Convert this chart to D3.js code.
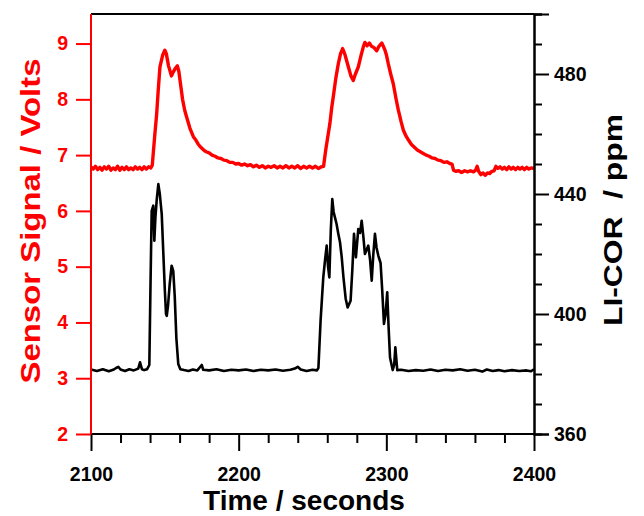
<!DOCTYPE html>
<html><head><meta charset="utf-8">
<script src="https://cdn.jsdelivr.net/npm/d3@7"></script>
<style>
html,body{margin:0;padding:0;background:#fff;}
svg{display:block;font-family:"Liberation Sans",Arial,sans-serif;font-weight:bold;}
</style></head>
<body>
<svg id="chart" width="644" height="516"></svg>
<script>
// ---- data ----
const timeDomain = [2100, 2400];
const voltDomain = [2, 9.53];
const ppmDomain = [360, 500];
const timeTicks = [2100, 2200, 2300, 2400];
const voltTicks = [2, 3, 4, 5, 6, 7, 8, 9];
const ppmTicks = [360, 400, 440, 480];

// Sensor signal (Volts) : [time s, volts]
const sensorSignal = [
 [2100,6.79],[2101.5,6.75],[2103,6.80],[2104.5,6.74],[2106,6.78],[2107.5,6.73],[2109,6.79],[2110.5,6.75],
 [2112,6.80],[2113.5,6.73],[2115,6.77],[2116.5,6.74],[2118,6.80],[2119.5,6.73],[2121,6.78],[2122.5,6.74],
 [2124,6.79],[2125.5,6.74],[2127,6.77],[2128.5,6.74],[2130,6.79],[2131.5,6.75],[2133,6.78],[2134.5,6.74],
 [2136,6.79],[2137.5,6.75],[2139,6.79],[2140.5,6.77],[2141.5,6.82],
 [2143,7.30],[2144.5,7.75],[2145.5,8.15],[2146.7,8.58],[2148.5,8.79],[2150,8.88],[2151,8.82],[2152.5,8.60],
 [2154.5,8.42],[2155.5,8.48],[2157,8.55],[2158.5,8.60],[2159.5,8.50],[2160.5,8.30],[2162,8.00],[2163.5,7.80],
 [2165,7.66],[2167,7.48],[2169.3,7.33],[2171,7.27],[2172.5,7.20],[2174,7.15],[2176,7.10],[2178,7.06],
 [2180,7.04],[2182,7.00],[2184,6.98],[2186,6.95],[2188,6.94],[2190,6.91],[2192,6.90],[2194,6.87],
 [2196,6.87],[2198,6.84],[2200,6.85],[2202,6.82],[2204,6.84],[2206,6.81],[2208,6.83],[2210,6.79],
 [2212,6.82],[2214,6.78],[2216,6.81],[2218,6.77],[2220,6.80],[2222,6.78],[2224,6.81],[2226,6.77],
 [2228,6.80],[2230,6.77],[2232,6.81],[2234,6.77],[2236,6.80],[2238,6.77],[2240,6.81],[2242,6.76],
 [2244,6.80],[2246,6.77],[2248,6.80],[2250,6.77],[2252,6.80],[2254,6.76],[2256,6.79],[2257.5,6.80],
 [2259,7.10],[2260.5,7.35],[2261.8,7.57],[2263,7.85],[2264.1,8.05],[2265.8,8.38],[2267.5,8.64],[2269,8.82],
 [2270.4,8.91],[2272,8.80],[2274.3,8.58],[2276,8.42],[2277.6,8.34],[2279,8.45],[2281,8.58],[2283,8.80],
 [2284.5,8.95],[2285.5,9.02],[2287,8.96],[2288.5,9.01],[2290,8.95],[2291.5,8.93],[2293.5,8.87],[2295,8.95],
 [2296.9,9.01],[2298,8.95],[2299.1,8.88],[2300.2,8.78],[2301.3,8.64],[2303,8.45],[2304.7,8.28],[2306.5,8.02],
 [2308.1,7.81],[2310,7.60],[2311.5,7.45],[2313,7.36],[2315,7.27],[2317,7.19],[2319,7.14],[2321,7.09],
 [2323,7.06],[2325,7.03],[2327,7.00],[2329,6.98],[2331,6.95],[2333,6.94],[2335,6.91],[2337,6.90],
 [2339,6.87],[2341,6.88],[2343,6.85],[2344.5,6.84],[2345.5,6.73],[2347,6.71],[2349,6.72],[2351,6.69],
 [2353,6.72],[2355,6.70],[2357,6.72],[2359,6.70],[2360.5,6.73],[2361.5,6.80],[2362.5,6.71],[2364,6.65],
 [2365.5,6.68],[2367,6.64],[2368.5,6.68],[2370,6.67],[2371.5,6.71],[2373,6.72],[2374.2,6.80],[2375.5,6.76],
 [2377,6.79],[2378.5,6.75],[2380,6.78],[2381.5,6.74],[2383,6.79],[2384.5,6.75],[2386,6.78],[2387.5,6.74],
 [2389,6.78],[2390.5,6.75],[2392,6.78],[2393.5,6.74],[2395,6.78],[2396.5,6.75],[2398,6.77],[2400,6.76]
];

// LI-COR CO2 (ppm) : [time s, ppm]
const licorPpm = [
 [2100,381.5],[2104,381.0],[2108,381.6],[2112,380.9],[2115,381.4],[2117,382.0],[2118.5,382.4],[2120,381.5],
 [2123,381.0],[2126,381.6],[2129,381.2],[2132,381.8],[2133.2,383.9],[2134.5,381.6],[2136,381.3],[2138,381.6],
 [2139.5,383.0],[2140.3,410.0],[2141.1,434.4],[2142.2,436.1],[2142.9,424.4],[2143.6,432.0],[2144.5,438.0],
 [2145.6,443.3],[2146.6,440.0],[2147.9,433.3],[2149,420.0],[2150,408.0],[2150.8,400.0],[2151.3,399.4],
 [2152.2,403.0],[2153.3,410.0],[2154.6,416.1],[2155.7,414.4],[2156.7,406.0],[2157.8,392.0],[2159.1,383.3],
 [2160.5,381.6],[2163,381.3],[2166,381.0],[2169,381.5],[2172,381.2],[2175,383.0],[2176,381.4],[2180,381.2],
 [2185,381.6],[2190,381.0],[2195,381.4],[2200,381.2],[2205,381.5],[2210,381.0],[2215,381.4],[2220,381.2],
 [2225,381.5],[2230,381.1],[2235,381.4],[2238,381.8],[2240,382.4],[2242,381.5],[2246,381.0],[2250,381.4],
 [2253,381.2],[2254,382.0],[2255.5,398.0],[2257.3,412.2],[2258.5,418.0],[2259.6,422.8],[2260.5,416.0],
 [2261.4,412.2],[2262.4,428.0],[2263.4,438.3],[2264.3,434.0],[2265.2,432.2],[2266.3,430.0],[2267.5,426.7],
 [2268.6,424.0],[2269.8,418.9],[2271,412.0],[2272.5,405.0],[2273.8,402.2],[2275.8,404.4],[2277,415.0],
 [2278.1,426.7],[2279.4,418.9],[2281,428.3],[2282.2,427.0],[2283.3,431.1],[2284.4,426.0],[2285.5,420.0],
 [2287.8,422.8],[2289,418.0],[2290.1,411.1],[2291.2,420.0],[2292.3,426.7],[2293.4,422.0],[2294.6,419.4],
 [2296.1,417.0],[2297.2,408.0],[2298.4,396.7],[2299.5,400.0],[2300.6,407.2],[2301.5,396.0],[2302.5,385.5],
 [2304.3,381.3],[2305.3,383.0],[2306.1,388.9],[2307.4,381.3],[2310,381.4],[2315,381.0],[2320,381.3],
 [2325,381.1],[2330,381.5],[2335,381.0],[2340,381.4],[2345,381.2],[2350,381.6],[2355,381.1],[2360,381.4],
 [2365,380.8],[2368,381.5],[2372,381.0],[2376,381.3],[2380,380.9],[2385,381.3],[2390,381.0],[2395,381.2],
 [2398,380.9],[2400,381.6]
];

// ---- layout ----
const svg = d3.select("#chart");
const M = {left: 91, right: 110, top: 14, bottom: 82};
const W = 644 - M.left - M.right, H = 516 - M.top - M.bottom;
const RED = "#ff0000";
const FONT = "Liberation Sans, Arial, sans-serif";

const x = d3.scaleLinear().domain(timeDomain).range([0, W]);
const yL = d3.scaleLinear().domain(voltDomain).range([H, 0]);
const yR = d3.scaleLinear().domain(ppmDomain).range([H, 0]);

const g = svg.append("g").attr("transform", `translate(${M.left},${M.top})`);

// lines
g.append("path").datum(licorPpm)
 .attr("fill","none").attr("stroke","#000").attr("stroke-width",2.6).attr("stroke-linejoin","round")
 .attr("d", d3.line().x(d=>x(d[0])).y(d=>yR(d[1])));
g.append("path").datum(sensorSignal)
 .attr("fill","none").attr("stroke",RED).attr("stroke-width",3.4).attr("stroke-linejoin","round")
 .attr("d", d3.line().x(d=>x(d[0])).y(d=>yL(d[1])));

// top frame line
g.append("line").attr("x1",0).attr("x2",W).attr("y1",0).attr("y2",0).attr("stroke","#000").attr("stroke-width",2);

// bottom axis: minor ticks every 20 s
const xMinor = d3.range(timeDomain[0], timeDomain[1] + 1, 20).filter(t => !timeTicks.includes(t));
const xAxisMinor = g.append("g").attr("transform",`translate(0,${H})`)
 .call(d3.axisBottom(x).tickValues(xMinor).tickSize(9).tickFormat(""));
const xAxis = g.append("g").attr("transform",`translate(0,${H})`)
 .call(d3.axisBottom(x).tickValues(timeTicks).tickSize(17).tickPadding(16).tickFormat(d3.format("d")));
[xAxisMinor, xAxis].forEach(a => {
  a.select(".domain").remove();
  a.selectAll("line").attr("stroke","#000").attr("stroke-width",2);
});
xAxis.selectAll("text").attr("fill","#000").attr("font-size",19.5).attr("font-weight","bold")
 .attr("font-family",FONT);
g.append("line").attr("x1",0).attr("x2",W).attr("y1",H).attr("y2",H).attr("stroke","#000").attr("stroke-width",2);

// right axis: minor every 10 ppm, labels every 40
const ppmMinor = d3.range(ppmDomain[0], ppmDomain[1] + 1, 10).filter(v => !ppmTicks.includes(v));
const rMinor = g.append("g").attr("transform",`translate(${W},0)`)
 .call(d3.axisRight(yR).tickValues(ppmMinor).tickSize(8).tickFormat(""));
const rAxis = g.append("g").attr("transform",`translate(${W},0)`)
 .call(d3.axisRight(yR).tickValues(ppmTicks).tickSize(15).tickPadding(5).tickFormat(d3.format("d")));
[rMinor, rAxis].forEach(a => {
  a.select(".domain").attr("stroke","#000").attr("stroke-width",2);
  a.selectAll("line").attr("stroke","#000").attr("stroke-width",2);
});
rAxis.selectAll("text").attr("fill","#000").attr("font-size",19.5).attr("font-weight","bold")
 .attr("font-family",FONT);

// left axis (red)
const lAxis = g.append("g")
 .call(d3.axisLeft(yL).tickValues(voltTicks).tickSize(15).tickPadding(8).tickFormat(d3.format("d")));
lAxis.select(".domain").remove();
lAxis.selectAll("line").attr("stroke",RED).attr("stroke-width",2);
lAxis.selectAll("text").attr("fill",RED).attr("font-size",19.5).attr("font-weight","bold")
 .attr("font-family",FONT);
g.append("line").attr("x1",0).attr("x2",0).attr("y1",0).attr("y2",H).attr("stroke",RED).attr("stroke-width",2);

// titles
svg.append("text").attr("x", 304).attr("y", 510).attr("text-anchor","middle")
 .attr("font-size",28).attr("fill","#000").text("Time / seconds");
svg.append("text").attr("transform","translate(40,221) rotate(-90)").attr("text-anchor","middle")
 .attr("font-size",27).attr("fill",RED)
 .attr("textLength",325).attr("lengthAdjust","spacingAndGlyphs").text("Sensor Signal / Volts");
svg.append("text").attr("transform","translate(622,220) rotate(-90)").attr("text-anchor","middle")
 .attr("font-size",25).attr("fill","#000").attr("xml:space","preserve")
 .attr("textLength",212).attr("lengthAdjust","spacingAndGlyphs").text("LI-COR  / ppm");
</script>
</body></html>
